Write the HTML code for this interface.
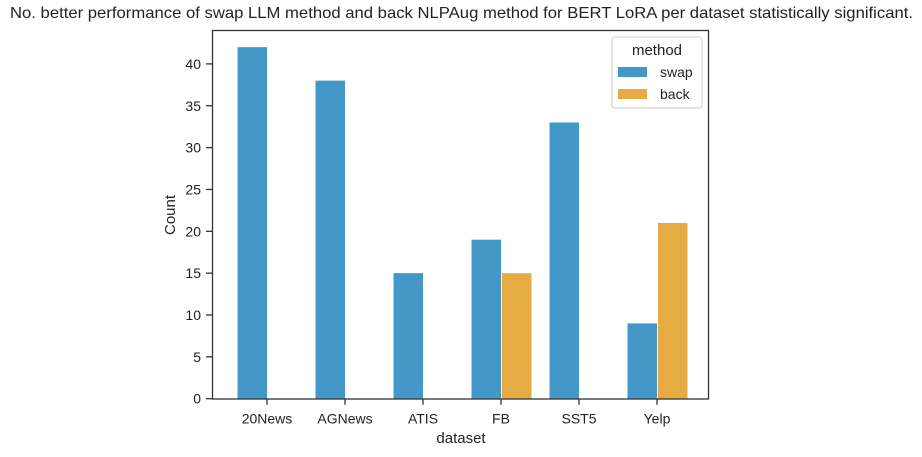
<!DOCTYPE html>
<html><head><meta charset="utf-8"><style>
body{margin:0;background:#fff;}
svg{display:block;font-family:"Liberation Sans","DejaVu Sans",sans-serif;}
</style></head><body>
<svg id="chart" width="922" height="457" viewBox="0 0 922 457">
<text x="10" y="18" font-size="16" textLength="903" lengthAdjust="spacingAndGlyphs" fill="#222">No. better performance of swap LLM method and back NLPAug method for BERT LoRA per dataset statistically significant.</text>
<g id="bars"></g>
<g id="axes"></g>
<rect x="212.5" y="30.5" width="496" height="368.5" fill="none" stroke="#333" stroke-width="1.3"/>
<text transform="translate(175,215) rotate(-90)" font-size="15" text-anchor="middle" fill="#222">Count</text>
<text x="461" y="443" font-size="15" text-anchor="middle" fill="#222">dataset</text>
<g>
<rect x="612" y="37" width="90" height="71" rx="3" fill="#fff" stroke="#ccc"/>
<text x="657" y="55" font-size="15" text-anchor="middle" fill="#222">method</text>
<rect x="618" y="67" width="29" height="10" fill="#4398c8"/>
<text x="660" y="77" font-size="14" fill="#222">swap</text>
<rect x="618" y="89" width="29" height="10" fill="#e6ab45"/>
<text x="660" y="99" font-size="14" fill="#222">back</text>
</g>
</svg>
<script>
const categories=["20News","AGNews","ATIS","FB","SST5","Yelp"];
const swapValues=[42,38,15,19,33,9];
const backValues=[0,0,0,15,0,21];
const yTicks=[0,5,10,15,20,25,30,35,40];
const NS="http://www.w3.org/2000/svg";
const y0=398.7, ppu=8.37;
function yScale(v){return y0-v*ppu;}
function xScale(i){return 267+78*i;}
const bars=document.getElementById('bars'), axes=document.getElementById('axes');
function mk(tag,attrs,parent){const e=document.createElementNS(NS,tag);for(const k in attrs)e.setAttribute(k,attrs[k]);parent.appendChild(e);return e;}
categories.forEach((c,i)=>{
  const cx=xScale(i);
  if(swapValues[i]>0){
    const r=mk('rect',{x:cx-29.5,y:yScale(swapValues[i]),width:29.5,height:y0-yScale(swapValues[i]),fill:'#4398c8'},bars);
    
    
  }
  if(backValues[i]>0){
    const r=mk('rect',{x:cx+1,y:yScale(backValues[i]),width:29.5,height:y0-yScale(backValues[i]),fill:'#e6ab45'},bars);
    
    
  }
  const t=mk('line',{x1:cx,x2:cx,y1:y0,y2:y0+6,stroke:'#333','stroke-width':1.3},axes);
  
  
  const l=mk('text',{x:cx,y:y0+25,'font-size':14,'text-anchor':'middle',fill:'#222'},axes);
  l.textContent=c;
  
  
});
yTicks.forEach(v=>{
  const y=yScale(v);
  const t=mk('line',{x1:206,x2:212.5,y1:y,y2:y,stroke:'#333','stroke-width':1.3},axes);
  
  
  const l=mk('text',{x:201,y:y+5,'font-size':14,'text-anchor':'end',fill:'#222'},axes);
  l.textContent=v;
  
  
});
</script>
</body></html>
